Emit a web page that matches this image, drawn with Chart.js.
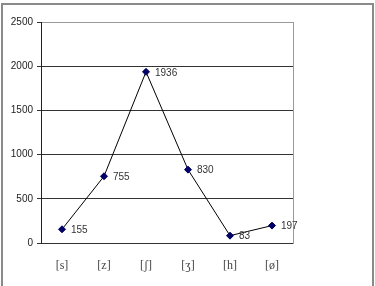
<!DOCTYPE html>
<html>
<head>
<meta charset="utf-8">
<script src="https://cdn.jsdelivr.net/npm/chart.js@4.4.0/dist/chart.umd.min.js"></script>
<style>
  html, body { margin: 0; padding: 0; background: #fff; }
  #wrap { position: relative; width: 375px; height: 286px; overflow: hidden; }
  #frame { position: absolute; left: 1px; top: 3px; width: 369px; height: 300px; border: 2px solid #8a8a8a; pointer-events: none; }
</style>
</head>
<body>
<div id="wrap">
  <canvas id="mycanvas" width="375" height="286"></canvas>
  <div id="frame"></div>
</div>
<script>
var sounds = ['[s]', '[z]', '[ʃ]', '[ʒ]', '[h]', '[ø]'];
var counts = [155, 755, 1936, 830, 83, 197];
var yTicks = [0, 500, 1000, 1500, 2000, 2500];

// gray frame round the plot area, drawn before the grid
var plotFrame = {
	id: 'plotFrame',
	beforeDraw: function(chart) {
		var a = chart.chartArea, ctx = chart.ctx;
		ctx.save();
		ctx.strokeStyle = '#9a9a9a';
		ctx.lineWidth = 1;
		ctx.strokeRect(a.left + 0.5, a.top + 0.5, a.right - a.left, a.bottom - a.top);
		ctx.restore();
	}
};

// value labels to the right of each point
var pointLabels = {
	id: 'pointLabels',
	afterDatasetsDraw: function(chart) {
		var ctx = chart.ctx;
		var meta = chart.getDatasetMeta(0);
		ctx.save();
		ctx.font = '10px "Liberation Sans", Arial, sans-serif';
		ctx.fillStyle = '#333';
		ctx.textBaseline = 'middle';
		meta.data.forEach(function(pt, i) {
			ctx.fillText(String(counts[i]), pt.x + 9, pt.y + 1);
		});
		ctx.restore();
	}
};

var ctx = document.getElementById('mycanvas');
var chart = new Chart(ctx, {
	type: 'line',
	data: {
		labels: sounds,
		datasets: [{
			data: counts,
			borderColor: '#000',
			borderWidth: 1,
			tension: 0,
			pointStyle: 'rectRot',
			pointRadius: 3.5,
			pointBackgroundColor: '#000066',
			pointBorderColor: '#000066',
			pointBorderWidth: 1
		}]
	},
	options: {
		responsive: false,
		animation: false,
		events: [],
		layout: { padding: { left: 0, right: 82, top: 22, bottom: 0 } },
		plugins: { legend: { display: false }, tooltip: { enabled: false } },
		scales: {
			x: {
				offset: true,
				grid: { display: false, drawTicks: false },
				border: { display: false },
				ticks: {
					padding: 16,
					color: '#444',
					font: { family: '"Liberation Serif", "Times New Roman", serif', size: 12 }
				},
				afterFit: function(s) { s.height = 43; }
			},
			y: {
				min: 0,
				max: 2500,
				afterBuildTicks: function(s) { s.ticks = yTicks.map(function(v) { return { value: v }; }); },
				grid: {
					color: function(c) { return c.tick && c.tick.value === 2500 ? '#9a9a9a' : '#333'; },
					tickColor: '#333',
					tickLength: 4,
					lineWidth: 1
				},
				border: { display: true, color: '#222', width: 1 },
				ticks: {
					padding: 4,
					color: '#222',
					font: { family: '"Liberation Sans", Arial, sans-serif', size: 10 },
					callback: function(v) { return String(v); }
				},
				afterFit: function(s) { s.width = 41; }
			}
		}
	},
	plugins: [plotFrame, pointLabels]
});
</script>
</body>
</html>
